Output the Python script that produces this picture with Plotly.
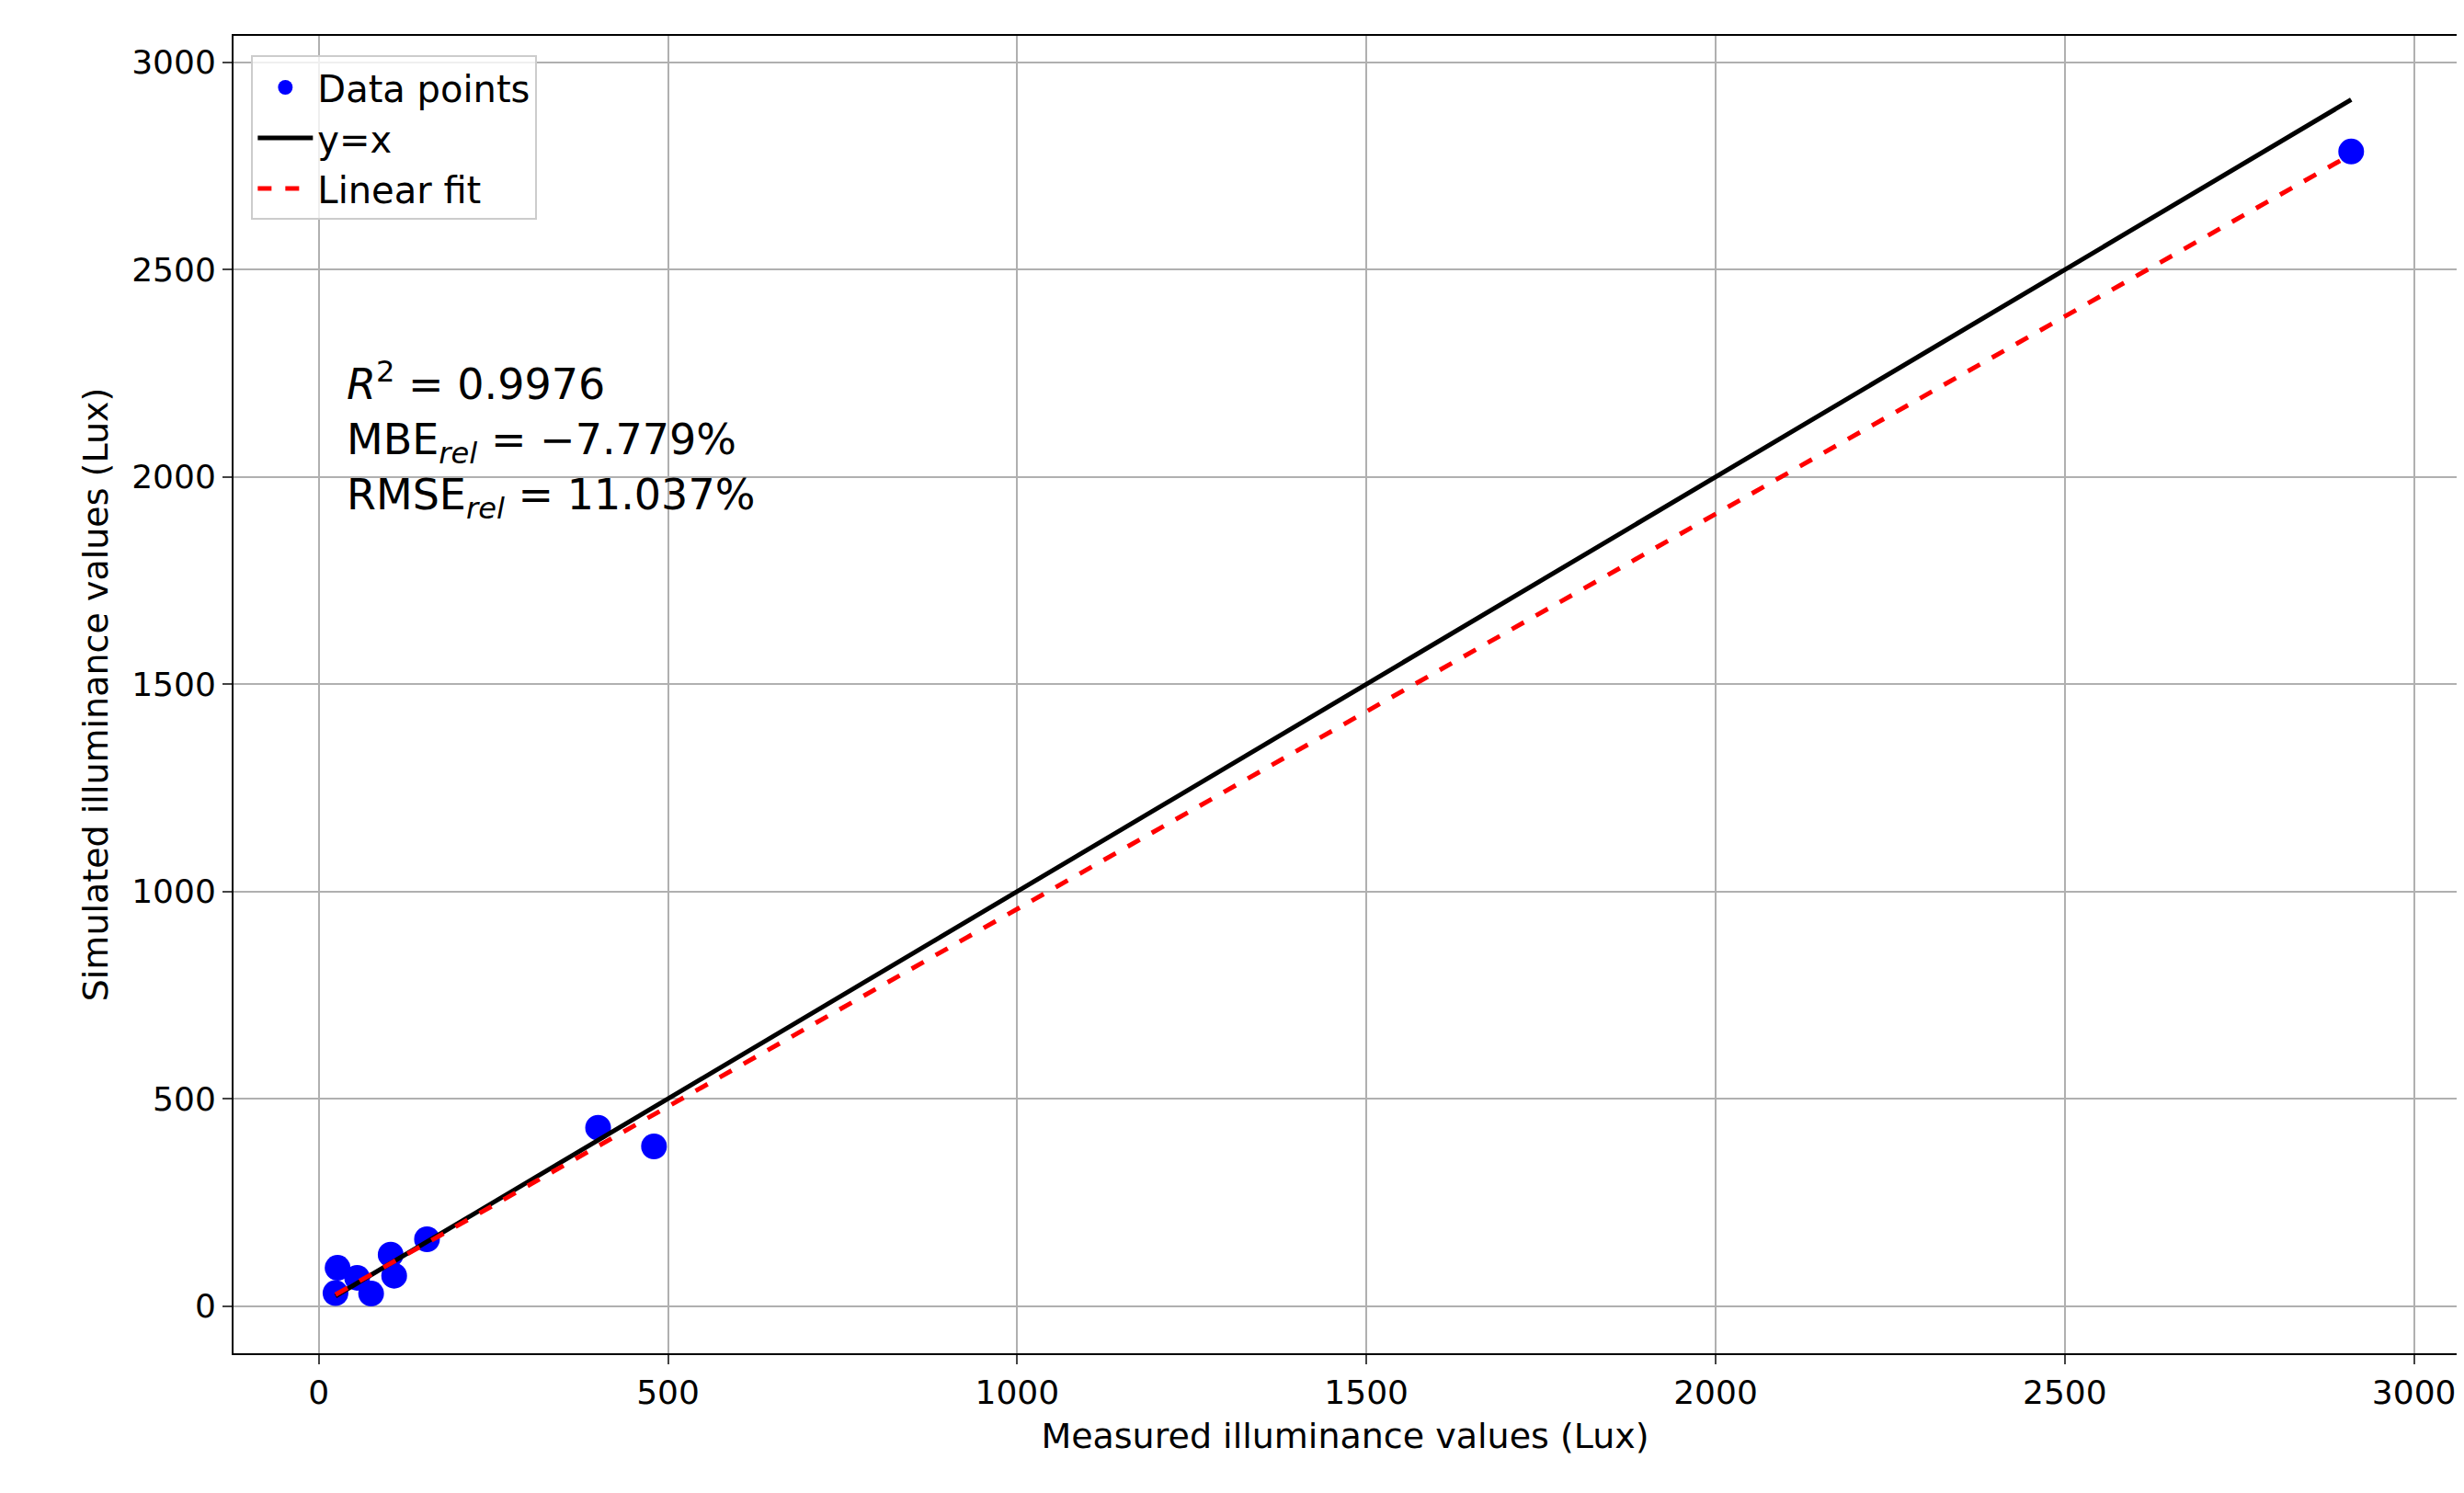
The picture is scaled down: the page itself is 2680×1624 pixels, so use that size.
import numpy as np
import plotly.graph_objects as go

measured = [27, 24, 75, 55, 103, 108, 155, 400, 480, 2910]
simulated = [92, 31, 30, 68, 124, 73, 161, 430, 385, 2785]
x_ticks = [0, 500, 1000, 1500, 2000, 2500, 3000]
y_ticks = [0, 500, 1000, 1500, 2000, 2500, 3000]

mx = np.array(measured); sy = np.array(simulated)
k, b = np.polyfit(mx, sy, 1)
xl = np.array([mx.min(), mx.max()])

fig = go.Figure()
fig.add_trace(go.Scatter(x=measured, y=simulated, mode="markers", name="Data points",
                         marker=dict(color="blue", size=28)))
fig.add_trace(go.Scatter(x=xl, y=xl, mode="lines", name="y=x", line=dict(color="black", width=5)))
fig.add_trace(go.Scatter(x=xl, y=k * xl + b, mode="lines", name="Linear fit",
                         line=dict(color="red", width=5, dash="dash")))

fig.add_annotation(xref="paper", yref="paper", x=0.05, y=0.76, xanchor="left", yanchor="top",
                   showarrow=False, align="left", font=dict(size=46, color="black"),
                   text="<i>R</i><sup>2</sup> = 0.9976<br>MBE<sub><i>rel</i></sub> = −7.779%<br>RMSE<sub><i>rel</i></sub> = 11.037%")

ax = dict(showline=True, linecolor="black", linewidth=2, mirror=True, showgrid=True,
          gridcolor="#b0b0b0", gridwidth=2, ticks="outside", ticklen=10, tickwidth=2,
          zeroline=False, tickfont=dict(size=36, color="black"))
fig.update_layout(
    width=2680, height=1624, plot_bgcolor="white", paper_bgcolor="white",
    font=dict(family="DejaVu Sans", color="black"),
    margin=dict(l=246, r=16, t=31, b=160),
    xaxis=dict(range=[-122, 3061], tickvals=x_ticks,
               title=dict(text="Measured illuminance values (Lux)", font=dict(size=38), standoff=14), **ax),
    yaxis=dict(range=[-114, 3064], tickvals=y_ticks,
               title=dict(text="Simulated illuminance values (Lux)", font=dict(size=38), standoff=14), **ax),
    legend=dict(x=0.008, y=0.985, xanchor="left", yanchor="top", bgcolor="rgba(255,255,255,0.8)",
                bordercolor="#cccccc", borderwidth=2, font=dict(size=40), itemwidth=60),
)
fig.write_html("out.html")
